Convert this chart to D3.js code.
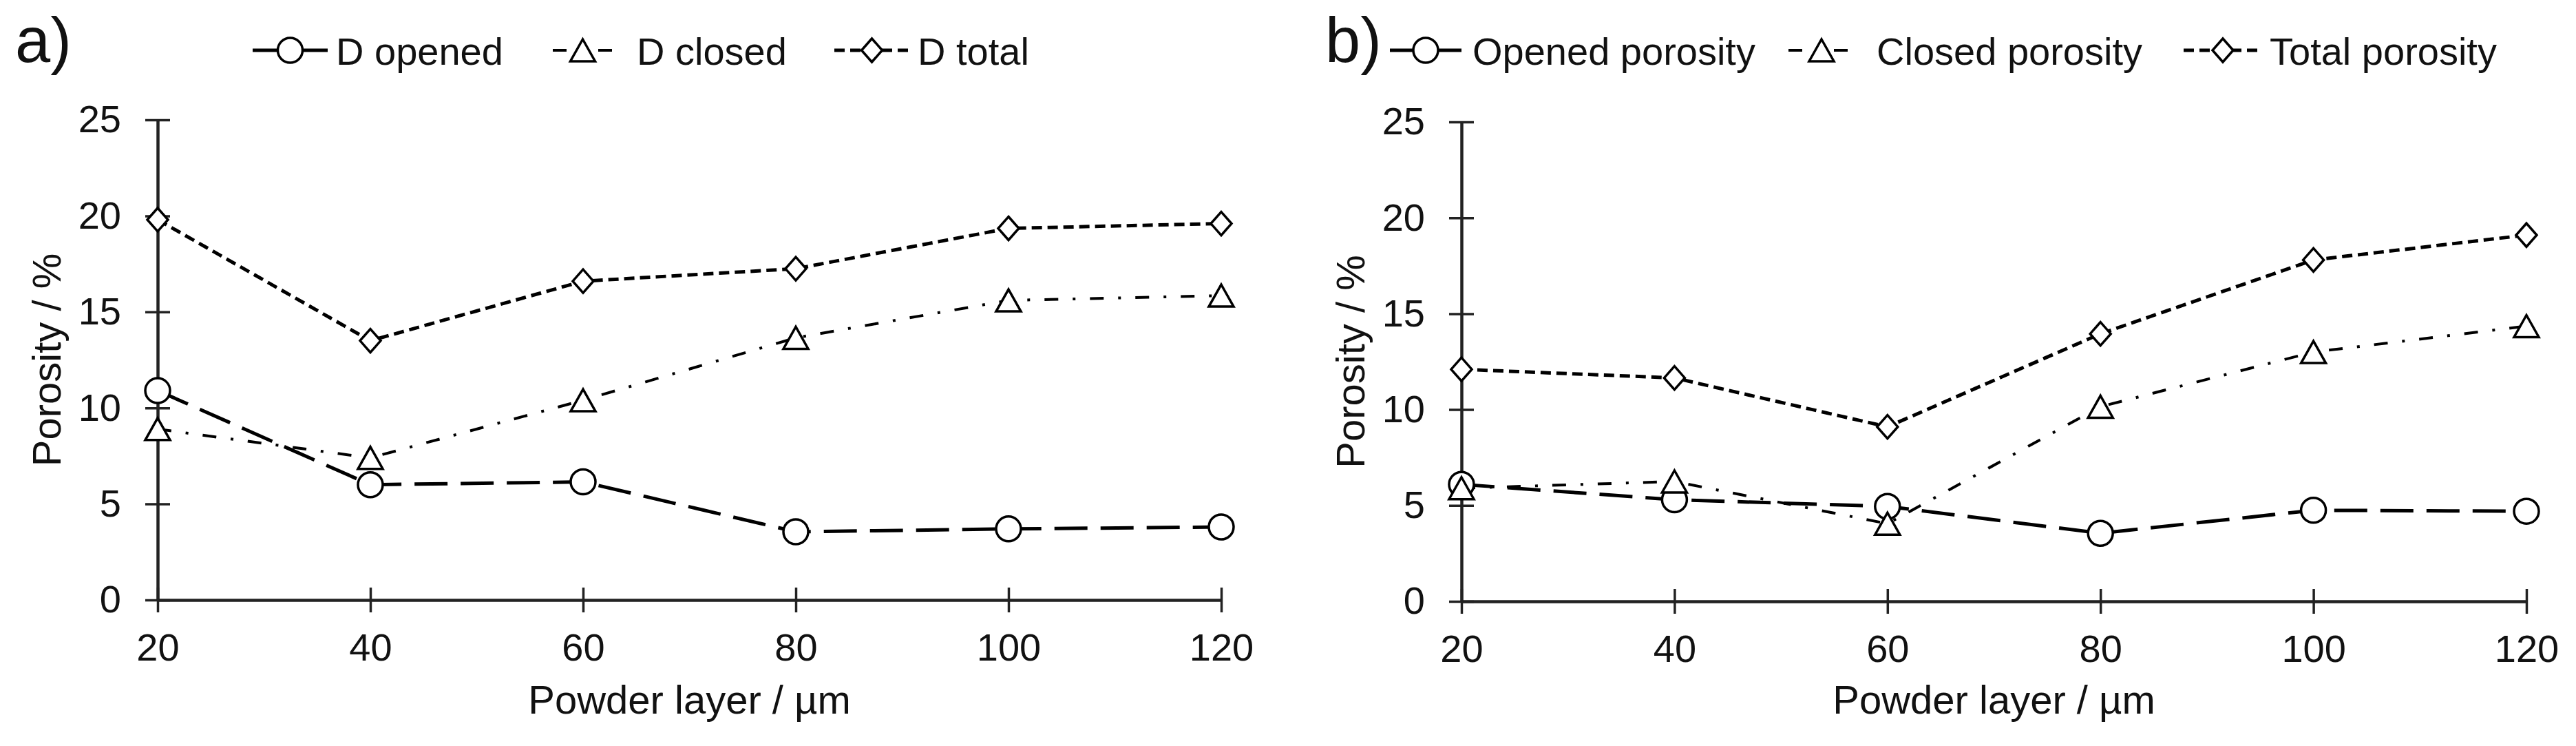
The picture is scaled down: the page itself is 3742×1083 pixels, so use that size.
<!DOCTYPE html>
<html>
<head>
<meta charset="utf-8">
<script src="https://cdn.jsdelivr.net/npm/d3@7"></script>
<style>
  html, body { margin: 0; padding: 0; background: #fff; }
  svg { display: block; }
  text { font-family: "Liberation Sans", Arial, sans-serif; fill: #111; }
</style>
</head>
<body>
<svg id="chart" width="3742" height="1083"></svg>
<script>
// powder layer thickness (µm)
const layers = [20, 40, 60, 80, 100, 120];
const yTicks = [0, 5, 10, 15, 20, 25];

// panel a
const aOpened = [10.9, 6.0, 6.15, 3.55, 3.7, 3.8];
const aClosed = [8.9, 7.4, 10.4, 13.65, 15.6, 15.85];
const aTotal  = [19.8, 13.5, 16.6, 17.25, 19.35, 19.6];
const aNames  = ["D opened", "D closed", "D total"];

// panel b
const bOpened = [6.1, 5.3, 4.95, 3.55, 4.75, 4.7];
const bClosed = [5.9, 6.25, 4.05, 10.15, 13.0, 14.35];
const bTotal  = [12.1, 11.65, 9.1, 13.95, 17.8, 19.1];
const bNames  = ["Opened porosity", "Closed porosity", "Total porosity"];

const svg = d3.select("#chart");

// line styles: opened = long dash, closed = dash-dot, total = short dash
const styles = [
  { dash: "48,19",        width: 5,   marker: "circle" },
  { dash: "20,21,4,21",   width: 4,   marker: "triangle" },
  { dash: "15,8",         width: 5,   marker: "diamond" }
];

function drawMarker(g, type, x, y) {
  if (type === "circle") {
    g.append("circle").attr("cx", x).attr("cy", y).attr("r", 18)
      .attr("fill", "#fff").attr("stroke", "#000").attr("stroke-width", 3.5);
  } else if (type === "triangle") {
    const w = 18, h = 16;
    g.append("path").attr("d", `M${x},${y - h}L${x + w},${y + h}L${x - w},${y + h}Z`)
      .attr("fill", "#fff").attr("stroke", "#000").attr("stroke-width", 3.5);
  } else {
    const rx = 15, ry = 17;
    g.append("path").attr("d", `M${x},${y - ry}L${x + rx},${y}L${x},${y + ry}L${x - rx},${y}Z`)
      .attr("fill", "#fff").attr("stroke", "#000").attr("stroke-width", 3.5);
  }
}

function panel(cfg) {
  const x = d3.scaleLinear().domain([20, 120]).range([cfg.x0, cfg.x1]);
  const y = d3.scaleLinear().domain([0, 25]).range([cfg.y0, cfg.y1]);
  const g = svg.append("g");

  // axes with ticks crossing the line
  const yAxis = g.append("g").attr("transform", `translate(${cfg.x0},0)`)
    .call(d3.axisLeft(y).tickValues(yTicks).tickSizeInner(18).tickSizeOuter(0).tickPadding(35));
  const xAxis = g.append("g").attr("transform", `translate(0,${cfg.y0})`)
    .call(d3.axisBottom(x).tickValues(layers).tickSizeInner(18).tickSizeOuter(0).tickPadding(30));
  yAxis.selectAll(".tick line").attr("x1", -18).attr("x2", 18);
  xAxis.selectAll(".tick line").attr("y1", -18).attr("y2", 18);
  [xAxis, yAxis].forEach(ax => {
    ax.select(".domain").attr("stroke", "#222").attr("stroke-width", 4.5);
    ax.selectAll(".tick line").attr("stroke", "#222").attr("stroke-width", 3.5);
    ax.selectAll(".tick text").attr("font-size", 56).attr("fill", "#111")
      .attr("font-family", "Liberation Sans, Arial, sans-serif");
  });

  // axis titles
  g.append("text").attr("x", (cfg.x0 + cfg.x1) / 2).attr("y", 1036)
    .attr("text-anchor", "middle").attr("font-size", 58).text("Powder layer / µm");
  g.append("text").attr("transform", `translate(${cfg.x0 - 141},${(cfg.y0 + cfg.y1) / 2}) rotate(-90)`)
    .attr("text-anchor", "middle").attr("font-size", 58).text("Porosity / %");

  // panel letter
  g.append("text").attr("x", cfg.letterX).attr("y", 90).attr("font-size", 92).text(cfg.letter);

  const line = d3.line().x((d, i) => x(layers[i])).y(d => y(d));
  const series = [cfg.opened, cfg.closed, cfg.total];

  // lines first, markers on top
  series.forEach((vals, k) => {
    g.append("path").datum(vals).attr("d", line)
      .attr("fill", "none").attr("stroke", "#000")
      .attr("stroke-width", styles[k].width).attr("stroke-dasharray", styles[k].dash);
  });
  series.forEach((vals, k) => {
    const mg = g.append("g");
    vals.forEach((v, i) => drawMarker(mg, styles[k].marker, x(layers[i]), y(v)));
  });

  // legend
  cfg.legend.forEach((it, k) => {
    const lg = g.append("g");
    lg.append("line").attr("x1", it.l0).attr("x2", it.l1).attr("y1", 73).attr("y2", 73)
      .attr("stroke", "#000").attr("stroke-width", styles[k].width)
      .attr("stroke-dasharray", styles[k].dash);
    drawMarker(lg, styles[k].marker, (it.l0 + it.l1) / 2, 73);
    lg.append("text").attr("x", it.tx).attr("y", 94).attr("font-size", 56).text(cfg.names[k]);
  });
}

panel({
  letter: "a)", letterX: 22,
  x0: 229, x1: 1774, y0: 871, y1: 174,
  opened: aOpened, closed: aClosed, total: aTotal, names: aNames,
  legend: [
    { l0: 367, l1: 476, tx: 488 },
    { l0: 803, l1: 890, tx: 925 },
    { l0: 1212, l1: 1321, tx: 1333 }
  ]
});

panel({
  letter: "b)", letterX: 1925,
  x0: 2123, x1: 3670, y0: 873, y1: 177,
  opened: bOpened, closed: bClosed, total: bTotal, names: bNames,
  legend: [
    { l0: 2019, l1: 2123, tx: 2139 },
    { l0: 2598, l1: 2694, tx: 2726 },
    { l0: 3172, l1: 3286, tx: 3297 }
  ]
});
</script>
</body>
</html>
